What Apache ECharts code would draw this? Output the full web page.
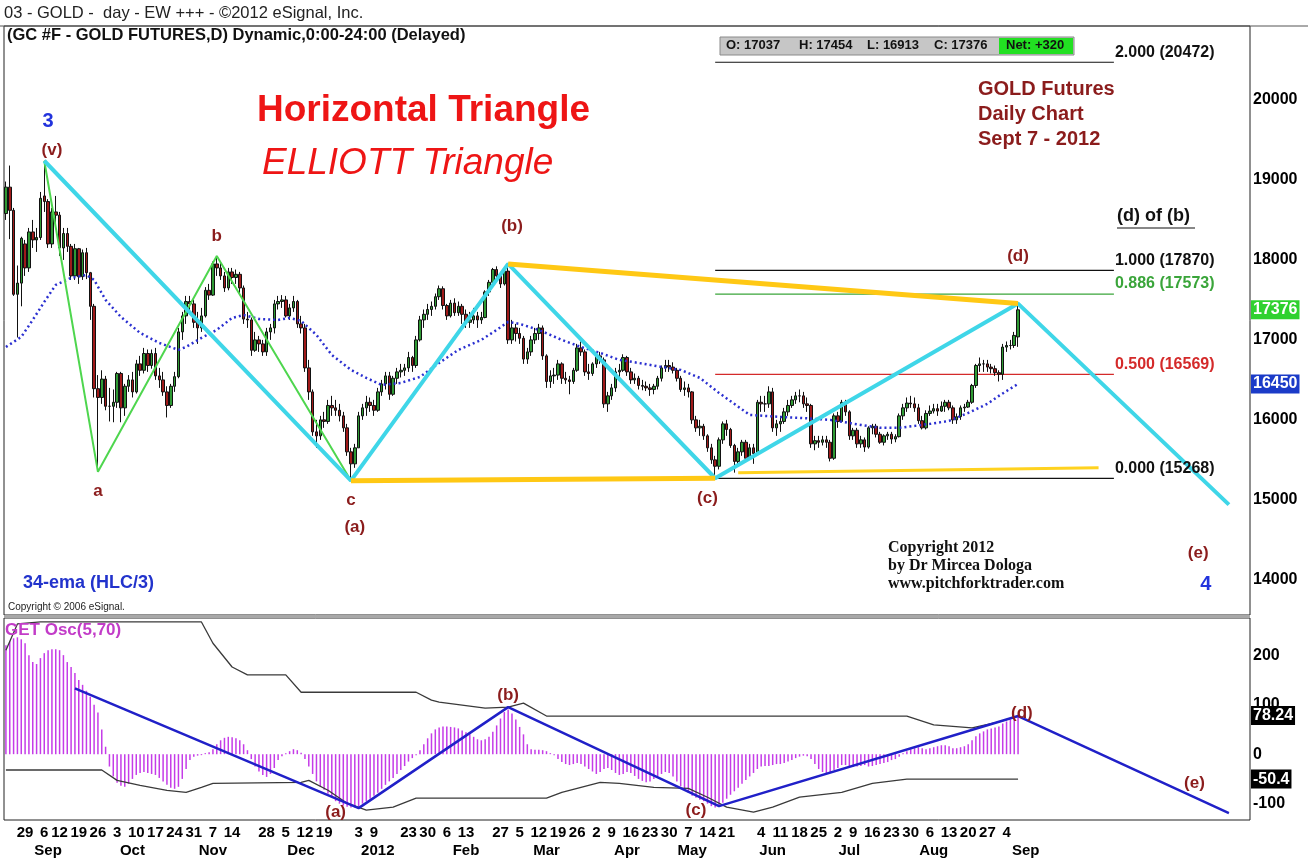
<!DOCTYPE html>
<html>
<head>
<meta charset="utf-8">
<title>GOLD Futures - Horizontal Triangle</title>
<script src="https://cdn.jsdelivr.net/npm/echarts@6.0.0/dist/echarts.min.js"></script>
<style>
  html, body { margin: 0; padding: 0; background: #fff; }
  #chart { width: 1308px; height: 859px; }
</style>
</head>
<body>
<div id="chart"></div>
<script>
const FONT = 'Liberation Sans, Arial, sans-serif'
const SERIF = 'Liberation Serif, Times New Roman, serif'
const WAVE_RED = '#8b1c1c'

// trading calendar: daily bars from 22 Aug 2011, exchange holidays skipped
const FIRST_DAY = '2011-08-22'
const HOLIDAYS = ['2011-09-05', '2011-11-24', '2011-12-26', '2012-01-02', '2012-01-16',
  '2012-02-20', '2012-04-06', '2012-05-28', '2012-07-04', '2012-09-03']
const FUTURE_SLOTS = 60

const DAY_LABEL_DATES = ['2011-08-29', '2011-09-06', '2011-09-12', '2011-09-19', '2011-09-26',
  '2011-10-03', '2011-10-10', '2011-10-17', '2011-10-24', '2011-10-31', '2011-11-07', '2011-11-14',
  '2011-11-28', '2011-12-05', '2011-12-12', '2011-12-19', '2012-01-03', '2012-01-09', '2012-01-23',
  '2012-01-30', '2012-02-06', '2012-02-13', '2012-02-27', '2012-03-05', '2012-03-12', '2012-03-19',
  '2012-03-26', '2012-04-02', '2012-04-09', '2012-04-16', '2012-04-23', '2012-04-30', '2012-05-07',
  '2012-05-14', '2012-05-21', '2012-06-04', '2012-06-11', '2012-06-18', '2012-06-25', '2012-07-02',
  '2012-07-09', '2012-07-16', '2012-07-23', '2012-07-30', '2012-08-06', '2012-08-13', '2012-08-20',
  '2012-08-27', '2012-09-04']
const MONTH_LABEL_IDX = [11, 33, 54, 77, 97, 120, 141, 162, 179, 200, 220, 242, 266]
const MONTH_LABEL_TEXT = ['Sep', 'Oct', 'Nov', 'Dec', '2012', 'Feb', 'Mar', 'Apr', 'May', 'Jun', 'Jul', 'Aug', 'Sep']

// GC #F daily OHLC (price x10)
const opens = [
  18580, 18910, 18620, 17570, 17710, 18200, 17900, 18350, 18250, 18280,
  18800, 18730, 18200, 18600, 18560, 18150, 18330, 18170, 17800, 18140,
  17790, 18090, 17840, 17420, 16390, 16280, 16510, 16170, 16170, 16220,
  16580, 16150, 16420, 16500, 16350, 16700, 16620, 16830, 16680, 16830,
  16550, 16500, 16350, 16180, 16420, 16540, 17100, 17300, 17480, 17450,
  17220, 17150, 17300, 17620, 17560, 17950, 17900, 17800, 17650, 17850,
  17780, 17820, 17650, 17260, 17250, 16870, 17000, 16950, 16850, 17100,
  17150, 17450, 17480, 17500, 17300, 17400, 17480, 17200, 17150, 16650,
  16350, 15850, 15800, 16000, 15980, 16180, 16150, 16120, 16050, 15900,
  15600, 15450, 15650, 16050, 16150, 16220, 16180, 16120, 16350, 16450,
  16550, 16320, 16520, 16600, 16620, 16650, 16780, 16680, 17000, 17250,
  17320, 17380, 17420, 17540, 17640, 17430, 17300, 17460, 17340, 17420,
  17320, 17220, 17250, 17300, 17250, 17280, 17600, 17720, 17880, 17800,
  17700, 17860, 17000, 17150, 17080, 17020, 16760, 16850, 17000, 17080,
  17150, 16800, 16480, 16550, 16560, 16700, 16520, 16500, 16480, 16620,
  16900, 16850, 16600, 16580, 16700, 16800, 16750, 16200, 16300, 16400,
  16600, 16620, 16780, 16600, 16500, 16520, 16430, 16420, 16400, 16380,
  16420, 16520, 16650, 16680, 16660, 16620, 16520, 16380, 16400, 16350,
  16000, 15900, 15920, 15800, 15650, 15500, 15420, 15750, 15950, 15880,
  15680, 15480, 15600, 15720, 15520, 15650, 15580, 16220, 16200, 16200,
  16350, 15900, 15950, 15980, 16100, 16180, 16250, 16300, 16300, 16200,
  16180, 15700, 15740, 15720, 15750, 15720, 15520, 16050, 15980, 16220,
  16100, 15800, 15870, 15700, 15750, 15660, 15900, 15920, 15820, 15720,
  15800, 15820, 15760, 15790, 16050, 16150, 16210, 16200, 16150, 15990,
  15900, 16080, 16110, 16140, 16110, 16170, 16220, 16150, 16000, 16040,
  16150, 16160, 16220, 16430, 16680, 16700, 16700, 16660, 16640, 16590,
  16570, 16910, 16930, 16930, 17037
]
const highs = [
  18980, 19180, 18650, 17930, 18290, 18250, 18400, 18500, 18400, 18850,
  19240, 18760, 18650, 18800, 18600, 18400, 18400, 18200, 18200, 18150,
  18130, 18150, 17850, 17450, 16560, 16620, 16550, 16400, 16380, 16600,
  16600, 16450, 16560, 16600, 16750, 16800, 16900, 16880, 16880, 16900,
  16650, 16600, 16420, 16450, 16600, 17150, 17350, 17550, 17550, 17500,
  17350, 17400, 17660, 17700, 17980, 18050, 17980, 17850, 17900, 17900,
  17880, 17850, 17680, 17350, 17280, 17100, 17050, 17000, 17150, 17200,
  17500, 17550, 17560, 17550, 17450, 17550, 17500, 17300, 17200, 16750,
  16380, 16000, 16050, 16100, 16250, 16300, 16250, 16200, 16100, 15950,
  15650, 15700, 16100, 16200, 16300, 16280, 16250, 16400, 16500, 16600,
  16600, 16550, 16650, 16700, 16700, 16850, 16800, 17050, 17300, 17380,
  17450, 17480, 17580, 17680, 17670, 17450, 17500, 17520, 17480, 17450,
  17380, 17350, 17400, 17350, 17350, 17620, 17750, 17900, 17920, 17850,
  17900, 17950, 17250, 17200, 17150, 17050, 16900, 17050, 17150, 17200,
  17180, 16820, 16620, 16650, 16750, 16720, 16600, 16550, 16650, 16950,
  16980, 16880, 16700, 16720, 16850, 16850, 16780, 16350, 16450, 16650,
  16700, 16820, 16800, 16650, 16580, 16550, 16500, 16480, 16450, 16450,
  16550, 16680, 16750, 16750, 16720, 16650, 16550, 16480, 16450, 16360,
  16050, 16000, 15950, 15820, 15700, 15550, 15780, 15980, 16000, 15900,
  15700, 15650, 15750, 15750, 15700, 15700, 16250, 16300, 16300, 16420,
  16400, 16000, 16050, 16150, 16250, 16300, 16350, 16380, 16350, 16280,
  16200, 15800, 15800, 15800, 15800, 15750, 16080, 16100, 16250, 16250,
  16120, 15900, 15900, 15800, 15780, 15920, 15950, 15950, 15850, 15820,
  15850, 15850, 15820, 16080, 16200, 16280, 16300, 16280, 16200, 16050,
  16120, 16180, 16200, 16200, 16230, 16250, 16250, 16180, 16080, 16180,
  16200, 16250, 16450, 16700, 16780, 16750, 16750, 16700, 16680, 16620,
  16950, 16980, 17000, 17100, 17454
]
const lows = [
  18500, 18260, 17550, 17030, 17420, 17800, 17850, 18150, 18100, 18250,
  18600, 18150, 18150, 18400, 18050, 18000, 18100, 17750, 17750, 17700,
  17750, 17760, 17250, 16280, 15350, 16200, 16120, 15980, 15970, 16150,
  15970, 16050, 16350, 16280, 16330, 16550, 16580, 16600, 16640, 16500,
  16400, 16300, 16030, 16150, 16350, 16520, 17000, 17200, 17350, 17150,
  16950, 17100, 17280, 17500, 17550, 17800, 17750, 17600, 17620, 17700,
  17700, 17580, 17200, 17150, 16800, 16850, 16850, 16800, 16800, 17000,
  17080, 17380, 17400, 17280, 17250, 17350, 17150, 17080, 16600, 16250,
  15800, 15650, 15750, 15900, 15950, 16050, 16050, 15980, 15850, 15550,
  15240, 15400, 15650, 16000, 16050, 16100, 16050, 16100, 16300, 16380,
  16250, 16300, 16450, 16530, 16550, 16600, 16600, 16650, 16980, 17150,
  17250, 17300, 17380, 17500, 17380, 17250, 17280, 17300, 17300, 17200,
  17150, 17150, 17200, 17150, 17200, 17270, 17550, 17700, 17750, 17650,
  17680, 16950, 16950, 16980, 16950, 16700, 16700, 16800, 16950, 17000,
  16750, 16400, 16400, 16450, 16500, 16450, 16450, 16320, 16450, 16600,
  16800, 16550, 16500, 16550, 16650, 16700, 16150, 16100, 16250, 16350,
  16500, 16600, 16550, 16450, 16450, 16380, 16370, 16360, 16300, 16320,
  16380, 16480, 16600, 16600, 16580, 16480, 16350, 16300, 16280, 15950,
  15850, 15800, 15750, 15600, 15450, 15270, 15380, 15700, 15800, 15650,
  15340, 15420, 15550, 15480, 15500, 15450, 15550, 16100, 16100, 16150,
  15850, 15800, 15850, 15950, 16050, 16150, 16200, 16220, 16150, 16100,
  15650, 15620, 15650, 15680, 15650, 15480, 15500, 15900, 15970, 16050,
  15750, 15750, 15650, 15650, 15600, 15640, 15820, 15780, 15700, 15680,
  15750, 15700, 15720, 15780, 16000, 16100, 16150, 16100, 15950, 15880,
  15880, 16050, 16080, 16050, 16100, 16100, 16120, 15950, 15950, 16000,
  16100, 16150, 16200, 16400, 16600, 16600, 16600, 16580, 16550, 16480,
  16500, 16850, 16880, 16900, 16913
]
const closes = [
  18910, 18620, 17570, 17710, 18270, 17900, 18350, 18250, 18280, 18770,
  18730, 18200, 18600, 18560, 18150, 18330, 18170, 17800, 18140, 17790,
  18090, 17840, 17420, 16390, 16280, 16510, 16170, 16170, 16220, 16580,
  16150, 16420, 16500, 16350, 16700, 16620, 16830, 16680, 16830, 16550,
  16500, 16350, 16180, 16420, 16540, 17100, 17300, 17480, 17450, 17220,
  17150, 17300, 17620, 17560, 17950, 17900, 17800, 17650, 17850, 17780,
  17820, 17650, 17260, 17250, 16870, 17000, 16950, 16850, 17100, 17150,
  17450, 17480, 17500, 17300, 17400, 17480, 17200, 17150, 16650, 16350,
  15850, 15800, 16000, 15980, 16180, 16150, 16120, 16050, 15900, 15600,
  15450, 15650, 16050, 16150, 16220, 16180, 16120, 16350, 16450, 16550,
  16320, 16520, 16600, 16620, 16650, 16780, 16680, 17000, 17250, 17320,
  17380, 17420, 17540, 17640, 17430, 17300, 17460, 17340, 17420, 17320,
  17220, 17250, 17300, 17250, 17280, 17600, 17720, 17880, 17800, 17700,
  17860, 17000, 17150, 17080, 17020, 16760, 16850, 17000, 17080, 17150,
  16800, 16480, 16550, 16560, 16700, 16520, 16500, 16480, 16620, 16900,
  16850, 16600, 16580, 16700, 16800, 16750, 16200, 16300, 16400, 16600,
  16620, 16780, 16600, 16500, 16520, 16430, 16420, 16400, 16380, 16420,
  16520, 16650, 16680, 16660, 16620, 16520, 16380, 16400, 16350, 16000,
  15900, 15920, 15800, 15650, 15500, 15420, 15750, 15950, 15880, 15680,
  15480, 15600, 15720, 15520, 15650, 15580, 16220, 16200, 16200, 16350,
  15900, 15950, 15980, 16100, 16180, 16250, 16300, 16300, 16200, 16180,
  15700, 15740, 15720, 15750, 15720, 15520, 16050, 15980, 16220, 16100,
  15800, 15870, 15700, 15750, 15660, 15900, 15920, 15820, 15720, 15800,
  15820, 15760, 15790, 16050, 16150, 16210, 16200, 16150, 15990, 15900,
  16080, 16110, 16140, 16110, 16170, 16220, 16150, 16000, 16040, 16150,
  16160, 16220, 16430, 16680, 16700, 16700, 16660, 16640, 16590, 16570,
  16910, 16930, 16930, 17056, 17376
]

// 34-ema (HLC/3), read at [bar, value]
const ema = [
  [0, 16912], [4, 17037], [7, 17250], [10, 17475], [13, 17687], [17, 17775], [21, 17812],
  [23, 17750], [26, 17500], [30, 17287], [35, 17087], [40, 16962], [45, 16875], [47, 16912],
  [51, 17025], [55, 17125], [59, 17275], [62, 17312], [66, 17262], [71, 17250], [74, 17275],
  [77, 17237], [81, 17062], [85, 16812], [90, 16625], [94, 16525], [98, 16437], [103, 16462],
  [108, 16537], [113, 16712], [118, 16875], [124, 17000], [128, 17125], [131, 17225],
  [134, 17200], [139, 17125], [145, 17000], [150, 16912], [155, 16837], [160, 16750],
  [165, 16712], [171, 16662], [176, 16625], [181, 16525], [186, 16337], [194, 16062],
  [202, 16037], [207, 16025], [215, 16000], [223, 15937], [228, 15900], [233, 15900],
  [241, 15950], [246, 15987], [251, 16087], [256, 16200], [259, 16300], [264, 16450]
]

// wave drawings, [bar, price]
const cyanWave = [[10, 19240], [90, 15240], [131, 17950], [185, 15270], [264, 17454], [319, 14940]]
const greenWave = [[10, 19240], [24, 15350], [55, 18050], [90, 15240]]
const triangleTop = [[131, 17950], [264, 17454]]
const triangleBottom = [[90, 15240], [185, 15270]]
const supportLine = [[191, 15340], [285, 15400]]

// fibonacci levels of (d) of (b)
const FIB_START = 185
const FIB_END = 289
const fibValues = [20472, 17870, 17573, 16569, 15268]
const fibText = ['2.000 (20472)', '1.000 (17870)', '0.886 (17573)', '0.500 (16569)', '0.000 (15268)']
const fibColors = ['#111', '#111', '#3aa53a', '#d42a2a', '#111']

// wave labels on price panel: [text, bar, price, color]
const waveLabels = [
  ['3', 11, 19737, '#2233dd'], ['(v)', 12, 19375, WAVE_RED], ['a', 24, 15112, WAVE_RED],
  ['b', 55, 18300, WAVE_RED], ['c', 90, 15000, WAVE_RED], ['(a)', 91, 14662, WAVE_RED],
  ['(b)', 132, 18425, WAVE_RED], ['(c)', 183, 15025, WAVE_RED], ['(d)', 264, 18050, WAVE_RED],
  ['(e)', 311, 14337, WAVE_RED], ['4', 313, 13937, '#2233dd']
]

// GET oscillator (5,70)
const osc = [
  220, 228, 234, 236, 232, 224, 200, 186, 182, 194,
  204, 210, 212, 212, 210, 200, 186, 176, 164, 150,
  140, 128, 116, 100, 84, 50, 15, -25, -45, -58,
  -64, -66, -60, -50, -42, -38, -36, -38, -40, -42,
  -48, -55, -62, -68, -70, -66, -50, -30, -12, -5,
  -3, -2, 2, 4, 10, 20, 28, 33, 35, 34,
  32, 28, 20, 8, -10, -25, -35, -42, -46, -40,
  -28, -12, -4, 2, 6, 10, 8, 3, -10, -25,
  -40, -55, -65, -72, -80, -88, -95, -100, -104, -106,
  -108, -108, -106, -100, -95, -90, -84, -78, -70, -62,
  -55, -48, -40, -32, -24, -15, -8, -2, 8, 20,
  32, 42, 50, 54, 56, 56, 55, 54, 52, 48,
  44, 40, 35, 30, 28, 30, 35, 45, 58, 72,
  85, 90, 82, 70, 55, 40, 20, 10, 9, 9,
  8, 6, 2, -2, -10, -16, -20, -22, -20, -18,
  -20, -25, -30, -35, -40, -36, -30, -28, -32, -38,
  -42, -40, -36, -38, -44, -50, -54, -57, -55, -50,
  -45, -40, -36, -38, -45, -55, -65, -72, -78, -84,
  -88, -92, -95, -100, -105, -108, -106, -98, -90, -82,
  -75, -68, -60, -52, -45, -38, -30, -25, -24, -24,
  -22, -20, -20, -18, -15, -12, -8, -5, -3, -4,
  -10, -20, -30, -36, -40, -38, -32, -28, -22, -22,
  -25, -26, -25, -24, -22, -25, -24, -22, -20, -18,
  -16, -12, -10, -5, 2, 6, 10, 12, 14, 12,
  10, 12, 14, 16, 18, 18, 16, 12, 12, 14,
  16, 20, 28, 36, 42, 46, 50, 52, 54, 56,
  62, 66, 70, 74, 78.24
]
const upperBand = [
  [0, 210], [3, 263], [9, 267], [51, 267], [54, 224], [59, 176], [63, 160], [73, 160],
  [77, 125], [107, 125], [111, 109], [113, 105], [125, 93], [131, 95], [135, 103], [141, 77],
  [235, 77], [242, 59], [252, 53], [259, 65], [264, 77]
]
const lowerBand = [
  [0, -32], [25, -32], [29, -53], [35, -63], [42, -73], [47, -77], [51, -67], [54, -59],
  [77, -57], [79, -53], [84, -73], [89, -99], [94, -113], [101, -107], [107, -89], [141, -89],
  [145, -77], [155, -57], [160, -59], [169, -67], [178, -69], [183, -87], [188, -107],
  [195, -117], [200, -107], [207, -87], [218, -77], [226, -59], [235, -50.4], [264, -50.4]
]
const oscWave = [[18, 133], [92, -109], [131, 95], [186, -105], [264, 77], [319, -119]]
const oscLabels = [['(a)', 86, -117], ['(b)', 131, 119], ['(c)', 180, -113], ['(d)', 265, 83], ['(e)', 310, -59]]

// build the calendar
const BAR_COUNT = opens.length
const dates = []
for (let d = new Date(FIRST_DAY + 'T00:00:00Z'); dates.length < BAR_COUNT + FUTURE_SLOTS; d.setUTCDate(d.getUTCDate() + 1)) {
  const wd = d.getUTCDay()
  const key = d.toISOString().slice(0, 10)
  if (wd === 0 || wd === 6 || HOLIDAYS.includes(key)) continue
  dates.push(key)
}
const dayLabelIdx = new Set(DAY_LABEL_DATES.map((k) => dates.indexOf(k)))

const candles = opens.map((o, i) => [o, closes[i], lows[i], highs[i]])

const bold = (size, color) => ({ fontFamily: FONT, fontWeight: 'bold', fontSize: size, color })

function pathSeries(data, color, width, grid, z, type) {
  return {
    type: 'line', xAxisIndex: grid === 0 ? 0 : 1, yAxisIndex: grid, data,
    symbol: 'none', silent: true, z,
    lineStyle: { color, width, type: type || 'solid' },
  }
}

function axisMarker(value, text, bg) {
  return {
    yAxis: value,
    label: { formatter: text, backgroundColor: bg },
  }
}

const markerLine = (items) => ({
  silent: true,
  symbol: 'none',
  lineStyle: { color: 'rgba(0,0,0,0)', width: 0 },
  label: {
    show: true, position: 'end', distance: 1, padding: [2, 2, 1, 2],
    ...bold(16, '#fff'),
  },
  data: items,
})

const chart = echarts.init(document.getElementById('chart'))
chart.setOption({
  animation: false,
  backgroundColor: '#fff',
  grid: [
    { left: 4, right: 58, top: 26, height: 589, show: true, borderColor: '#222', borderWidth: 1 },
    { left: 4, right: 58, top: 618, height: 202, show: true, borderColor: '#222', borderWidth: 1 },
  ],
  xAxis: [
    { type: 'category', gridIndex: 0, data: dates, show: false },
    {
      type: 'category', gridIndex: 1, data: dates, position: 'bottom',
      axisLine: { show: false }, axisTick: { show: false },
      axisLabel: {
        interval: (i) => dayLabelIdx.has(i),
        formatter: (v) => String(Number(v.slice(8))),
        margin: 5, ...bold(15, '#000'),
      },
    },
    {
      type: 'category', gridIndex: 1, data: dates, position: 'bottom', offset: 18,
      axisLine: { show: false }, axisTick: { show: false },
      axisLabel: {
        interval: (i) => MONTH_LABEL_IDX.includes(i),
        formatter: (v, i) => MONTH_LABEL_TEXT[MONTH_LABEL_IDX.indexOf(i)] || '',
        margin: 5, ...bold(15, '#000'),
      },
    },
  ],
  yAxis: [
    {
      type: 'value', gridIndex: 0, position: 'right', min: 13560, max: 20925,
      splitLine: { show: false }, axisLine: { show: false }, axisTick: { show: false },
      axisLabel: {
        customValues: [14000, 15000, 16000, 17000, 18000, 19000, 20000],
        formatter: (v) => String(v), margin: 3, ...bold(16, '#000'),
      },
    },
    {
      type: 'value', gridIndex: 1, position: 'right', min: -133, max: 275,
      splitLine: { show: false }, axisLine: { show: false }, axisTick: { show: false },
      axisLabel: { customValues: [-100, 0, 100, 200], formatter: (v) => String(v), margin: 3, ...bold(16, '#000') },
    },
  ],
  series: [
    {
      name: 'GC #F', type: 'candlestick', xAxisIndex: 0, yAxisIndex: 0, data: candles,
      barWidth: 3, z: 3,
      itemStyle: { color: '#2f9a34', color0: '#a01a1a', borderColor: '#111', borderColor0: '#111', borderWidth: 1 },
      markLine: markerLine([axisMarker(17376, '17376', '#2fd12f')]),
    },
    {
      ...pathSeries(ema, '#2a2fd0', 2.5, 0, 4, [2, 3]),
      markLine: markerLine([axisMarker(16450, '16450', '#1b3bc8')]),
    },
    pathSeries(greenWave, '#4ed64e', 2, 0, 5),
    pathSeries(cyanWave, '#3fd6e8', 4, 0, 6),
    pathSeries(triangleTop, '#ffc814', 5, 0, 6),
    pathSeries(triangleBottom, '#ffc814', 5, 0, 6),
    pathSeries(supportLine, '#ffd21f', 3, 0, 5),
    ...fibValues.map((v, i) => pathSeries([[FIB_START, v], [FIB_END, v]], fibColors[i], 1.2, 0, 2)),
    {
      type: 'scatter', xAxisIndex: 0, yAxisIndex: 0, symbolSize: 0, silent: true, z: 8,
      itemStyle: { opacity: 1 },
      data: fibValues.map((v, i) => ({
        value: [FIB_END, v],
        label: { formatter: fibText[i], color: fibColors[i] },
      })),
      label: { show: true, position: 'right', distance: 1, offset: [0, -10], ...bold(16, '#111') },
    },
    {
      type: 'scatter', xAxisIndex: 0, yAxisIndex: 0, symbolSize: 0, silent: true, z: 8,
      itemStyle: { opacity: 1 },
      data: waveLabels.map((w) => ({
        value: [w[1], w[2]],
        label: { formatter: w[0], color: w[3], fontSize: w[3] === WAVE_RED ? 17 : 20 },
      })),
      label: { show: true, position: 'inside', ...bold(17, WAVE_RED) },
    },
    {
      name: 'GET Osc', type: 'bar', xAxisIndex: 1, yAxisIndex: 1, data: osc,
      barWidth: 1.5, silent: true, z: 2,
      itemStyle: { color: '#c53ce8' },
      markLine: markerLine([axisMarker(78.24, '78.24', '#000'), axisMarker(-50.4, '-50.4', '#000')]),
    },
    pathSeries(upperBand, '#3a3a3a', 1.3, 1, 3),
    pathSeries(lowerBand, '#3a3a3a', 1.3, 1, 3),
    pathSeries(oscWave, '#2020c8', 2.5, 1, 5),
    {
      type: 'scatter', xAxisIndex: 1, yAxisIndex: 1, symbolSize: 0, silent: true, z: 8,
      itemStyle: { opacity: 1 },
      data: oscLabels.map((w) => ({ value: [w[1], w[2]], label: { formatter: w[0] } })),
      label: { show: true, position: 'inside', ...bold(17, WAVE_RED) },
    },
  ],
  graphic: [
    { type: 'line', z: 50, shape: { x1: 0, y1: 26, x2: 1308, y2: 26 }, style: { stroke: '#555', lineWidth: 1 } },
    { type: 'rect', z: 50, shape: { x: 4, y: 615, width: 1246, height: 3 }, style: { fill: '#a8a8a8' } },
    { type: 'text', z: 50, left: 4, top: 5, style: { text: '03 - GOLD -  day - EW +++ - ©2012 eSignal, Inc.', font: '16.5px ' + FONT, fill: '#222' } },
    { type: 'text', z: 50, left: 7, top: 27, style: { text: '(GC #F - GOLD FUTURES,D) Dynamic,0:00-24:00 (Delayed)', font: 'bold 16.5px ' + FONT, fill: '#111' } },
    { type: 'rect', z: 50, shape: { x: 720, y: 37, width: 354, height: 18 }, style: { fill: '#c6c6c6', stroke: '#8a8a8a', lineWidth: 1 } },
    { type: 'rect', z: 51, shape: { x: 999, y: 38, width: 74, height: 16 }, style: { fill: '#22e022' } },
    { type: 'text', z: 52, left: 726, top: 39, style: { text: 'O: 17037', font: 'bold 13px ' + FONT, fill: '#111' } },
    { type: 'text', z: 52, left: 799, top: 39, style: { text: 'H: 17454', font: 'bold 13px ' + FONT, fill: '#111' } },
    { type: 'text', z: 52, left: 867, top: 39, style: { text: 'L: 16913', font: 'bold 13px ' + FONT, fill: '#111' } },
    { type: 'text', z: 52, left: 934, top: 39, style: { text: 'C: 17376', font: 'bold 13px ' + FONT, fill: '#111' } },
    { type: 'text', z: 52, left: 1006, top: 39, style: { text: 'Net: +320', font: 'bold 13px ' + FONT, fill: '#111' } },
    { type: 'text', z: 50, left: 257, top: 92, style: { text: 'Horizontal Triangle', font: 'bold 37px ' + FONT, fill: '#ee1515' } },
    { type: 'text', z: 50, left: 262, top: 145, style: { text: 'ELLIOTT Triangle', font: 'italic 37px ' + FONT, fill: '#ee1515' } },
    { type: 'text', z: 50, left: 978, top: 77, style: { text: 'GOLD Futures\nDaily Chart\nSept 7 - 2012', font: 'bold 20px ' + FONT, fill: WAVE_RED, lineHeight: 25 } },
    { type: 'text', z: 50, left: 1117, top: 207, style: { text: '(d) of (b)', font: 'bold 18px ' + FONT, fill: '#111' } },
    { type: 'line', z: 50, shape: { x1: 1117, y1: 228, x2: 1195, y2: 228 }, style: { stroke: '#111', lineWidth: 1.2 } },
    { type: 'text', z: 50, left: 23, top: 574, style: { text: '34-ema (HLC/3)', font: 'bold 18px ' + FONT, fill: '#2233cc' } },
    { type: 'text', z: 50, left: 8, top: 602, style: { text: 'Copyright © 2006 eSignal.', font: '10px ' + FONT, fill: '#222' } },
    { type: 'text', z: 50, left: 888, top: 539, style: { text: 'Copyright 2012\nby Dr Mircea Dologa\nwww.pitchforktrader.com', font: 'bold 16px ' + SERIF, fill: '#111', lineHeight: 18 } },
    { type: 'text', z: 50, left: 5, top: 622, style: { text: 'GET Osc(5,70)', font: 'bold 17px ' + FONT, fill: '#c23cc8' } },
  ],
})
</script>
</body>
</html>
